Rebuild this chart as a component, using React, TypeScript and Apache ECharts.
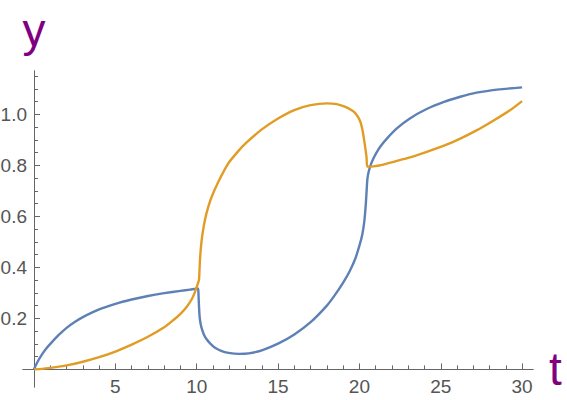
import React, { useEffect, useRef } from "react";
import * as echarts from "echarts";

// Blue curve samples (t, y)
const blueT = [0, 0.1, 0.25, 0.5, 0.75, 1, 1.5, 2, 2.5, 3, 4, 5, 6, 7, 8, 9, 9.6, 10.08, 10.11, 10.14, 10.18, 10.24, 10.32, 10.45, 10.62, 10.82, 11.1, 11.5, 11.95, 12.6, 13.2, 14, 15, 16, 17, 18, 18.5, 19, 19.4, 19.75, 20.0, 20.18, 20.3, 20.4, 20.46, 20.5, 20.58, 20.7, 20.86, 21.05, 21.3, 21.7, 22.3, 23.1, 24.1, 25.2, 26.2, 27.2, 28.6, 30];
const blueY = [0, 0.015, 0.034, 0.06, 0.082, 0.1, 0.134, 0.163, 0.186, 0.205, 0.235, 0.257, 0.274, 0.288, 0.299, 0.308, 0.313, 0.317, 0.29, 0.245, 0.205, 0.178, 0.158, 0.135, 0.117, 0.102, 0.086, 0.073, 0.065, 0.061, 0.063, 0.075, 0.101, 0.137, 0.185, 0.25, 0.292, 0.34, 0.385, 0.435, 0.485, 0.53, 0.58, 0.655, 0.72, 0.752, 0.778, 0.803, 0.827, 0.85, 0.875, 0.906, 0.945, 0.984, 1.02, 1.049, 1.069, 1.085, 1.098, 1.106];

// Orange curve samples (t, y)
const orangeT = [0, 0.5, 1, 2, 3, 4, 5, 6, 7, 8, 8.5, 9, 9.4, 9.7, 9.9, 10.06, 10.14, 10.17, 10.2, 10.26, 10.35, 10.5, 10.7, 10.92, 11.33, 11.94, 12.5, 13, 14, 15, 16, 17, 18, 18.6, 19.1, 19.5, 19.75, 20.04, 20.2, 20.3, 20.38, 20.44, 20.49, 20.86, 21.4, 22.1, 23.1, 24.1, 25.2, 26.2, 27.2, 28.2, 29.3, 30];
const orangeY = [0, 0.002, 0.006, 0.016, 0.03, 0.048, 0.07, 0.097, 0.128, 0.165, 0.19, 0.218, 0.247, 0.276, 0.305, 0.335, 0.352, 0.39, 0.43, 0.48, 0.53, 0.585, 0.635, 0.677, 0.736, 0.808, 0.852, 0.886, 0.941, 0.984, 1.017, 1.036, 1.043, 1.04, 1.03, 1.017, 1.004, 0.974, 0.935, 0.895, 0.86, 0.83, 0.795, 0.796, 0.802, 0.814, 0.831, 0.852, 0.877, 0.905, 0.937, 0.974, 1.018, 1.052];

// Ticks
const xMajor = [5, 10, 15, 20, 25, 30];
const xMinor = [1, 2, 3, 4, 6, 7, 8, 9, 11, 12, 13, 14, 16, 17, 18, 19, 21, 22, 23, 24, 26, 27, 28, 29];
const yMajor = [0.2, 0.4, 0.6, 0.8, 1.0];
const yMinor = [0.05, 0.1, 0.15, 0.25, 0.3, 0.35, 0.45, 0.5, 0.55, 0.65, 0.7, 0.75, 0.85, 0.9, 0.95, 1.05, 1.1, 1.15];

const X_MIN = -0.68;
const X_MAX = 30.67;
const Y_MIN = -0.069;
const Y_MAX = 1.17;

const AXIS_COLOR = "#666666";
const LABEL_COLOR = "#555555";
const FONT = "'Liberation Sans', Arial, sans-serif";
const PURPLE = "#800080";

export default function App() {
  const ref = useRef<HTMLDivElement>(null);

  useEffect(() => {
    if (!ref.current) return;
    const chart = echarts.init(ref.current, undefined, { renderer: "svg" });
    const blueData = blueT.map((t, i) => [t, blueY[i]]);
    const orangeData = orangeT.map((t, i) => [t, orangeY[i]]);

    const axisLine = { onZero: true, onZeroAxisIndex: 0, lineStyle: { color: AXIS_COLOR, width: 1 } };

    chart.setOption({
      animation: false,
      backgroundColor: "#ffffff",
      grid: { left: 23, right: 34, top: 71, bottom: 13, containLabel: false, outerBoundsMode: "none" },
      xAxis: [
        {
          type: "value",
          min: X_MIN,
          max: X_MAX,
          position: "bottom",
          axisLine,
          axisTick: { inside: true, length: 6, customValues: xMajor, lineStyle: { color: AXIS_COLOR } },
          axisLabel: {
            customValues: xMajor,
            margin: -10,
            color: LABEL_COLOR,
            fontSize: 19,
            fontFamily: FONT,
          },
          splitLine: { show: false },
          name: "t",
          nameLocation: "end",
          nameGap: 16,
          nameTextStyle: { color: PURPLE, fontSize: 46, fontFamily: FONT, padding: [12, 0, 0, 0] },
        },
        {
          type: "value",
          min: X_MIN,
          max: X_MAX,
          position: "bottom",
          axisLine,
          axisTick: { inside: true, length: 4, customValues: xMinor, lineStyle: { color: AXIS_COLOR } },
          axisLabel: { show: false },
          splitLine: { show: false },
        },
      ],
      yAxis: [
        {
          type: "value",
          min: Y_MIN,
          max: Y_MAX,
          position: "left",
          axisLine,
          axisTick: { inside: true, length: 6, customValues: yMajor, lineStyle: { color: AXIS_COLOR } },
          axisLabel: {
            customValues: yMajor,
            margin: -4,
            color: LABEL_COLOR,
            fontSize: 19,
            fontFamily: FONT,
            formatter: (v: number) => v.toFixed(1),
          },
          splitLine: { show: false },
          name: "y",
          nameLocation: "end",
          nameGap: 18,
          nameTextStyle: { color: PURPLE, fontSize: 46, fontFamily: FONT, align: "center" },
        },
        {
          type: "value",
          min: Y_MIN,
          max: Y_MAX,
          position: "left",
          axisLine,
          axisTick: { inside: true, length: 4, customValues: yMinor, lineStyle: { color: AXIS_COLOR } },
          axisLabel: { show: false },
          splitLine: { show: false },
        },
      ],
      series: [
        {
          type: "line",
          xAxisIndex: 0,
          yAxisIndex: 0,
          data: blueData,
          showSymbol: false,
          smooth: 0.2,
          lineStyle: { color: "#5E81B5", width: 2.4 },
          itemStyle: { color: "#5E81B5" },
          z: 3,
        },
        {
          type: "line",
          xAxisIndex: 0,
          yAxisIndex: 0,
          data: orangeData,
          showSymbol: false,
          smooth: 0.2,
          lineStyle: { color: "#E19C24", width: 2.4 },
          itemStyle: { color: "#E19C24" },
          z: 4,
        },
      ],
    });
    return () => chart.dispose();
  }, []);

  return (
    <div
      ref={ref}
      style={{ position: "absolute", left: 0, top: 0, width: 567, height: 400, background: "#fff" }}
    />
  );
}
